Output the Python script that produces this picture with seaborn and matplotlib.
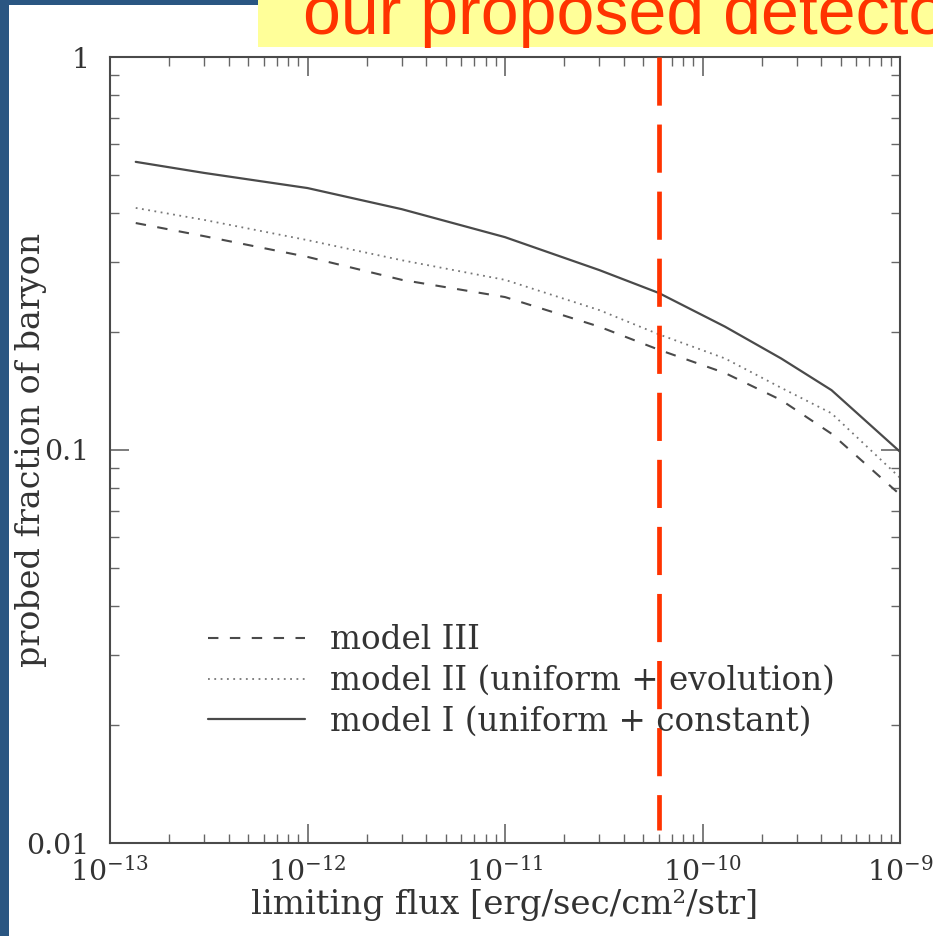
import matplotlib
matplotlib.use("Agg")
import matplotlib.pyplot as plt
from matplotlib.patches import Rectangle
from matplotlib.ticker import FixedLocator, FixedFormatter, LogLocator, NullFormatter
import numpy as np
import pandas as pd
import seaborn as sns

# ---------------- data ----------------
flux = [1.35e-13, 3e-13, 1e-12, 3e-12, 1e-11, 3e-11, 6e-11, 1.3e-10, 2.5e-10, 4.5e-10, 1e-9]
model_I = [0.541, 0.507, 0.464, 0.410, 0.348, 0.287, 0.251, 0.206, 0.171, 0.142, 0.099]
model_II = [0.413, 0.385, 0.342, 0.304, 0.271, 0.227, 0.197, 0.171, 0.144, 0.124, 0.085]
model_III = [0.378, 0.350, 0.310, 0.271, 0.245, 0.206, 0.180, 0.157, 0.134, 0.110, 0.077]
series_labels = ["model III", "model II (uniform + evolution)", "model I (uniform + constant)"]
detector_flux = 6e-11
x_ticks = [1e-13, 1e-12, 1e-11, 1e-10, 1e-9]
x_tick_labels = [r"$10^{-13}$", r"$10^{-12}$", r"$10^{-11}$", r"$10^{-10}$", r"$10^{-9}$"]
y_ticks = [0.01, 0.1, 1]
y_tick_labels = ["0.01", "0.1", "1"]
x_label = "limiting flux [erg/sec/cm²/str]"
y_label = "probed fraction of baryon"
banner_text = "our proposed detector"

# ---------------- style ----------------
sns.set_style("ticks")
plt.rcParams["font.family"] = ["DejaVu Serif"]
plt.rcParams["mathtext.fontset"] = "dejavuserif"

W, H = 933, 936
fig = plt.figure(figsize=(W / 100, H / 100), dpi=100)
fig.patch.set_facecolor("white")

# slide decorations
fig.patches.append(Rectangle((0, 0), 9 / W, 1, transform=fig.transFigure,
                             facecolor="#2A5682", edgecolor="none", zorder=0))
fig.patches.append(Rectangle((0, 1 - 5 / H), 258 / W, 5 / H, transform=fig.transFigure,
                             facecolor="#2A5682", edgecolor="none", zorder=0))
fig.patches.append(Rectangle((258 / W, 1 - 47 / H), 1 - 258 / W, 47 / H, transform=fig.transFigure,
                             facecolor="#FFFF99", edgecolor="none", zorder=0))
fig.text(303 / W, 1 - 34 / H, banner_text, color="#FF3300", fontsize=49,
         family=["Liberation Sans", "DejaVu Sans"], va="baseline", ha="left")

ax = fig.add_axes([110 / W, 1 - 843 / H, 790 / W, 786 / H])
ax.set_xscale("log")
ax.set_yscale("log")

df = pd.DataFrame({"flux": flux, "III": model_III, "II": model_II, "I": model_I})
line_color = "#4a4a4a"
sns.lineplot(data=df, x="flux", y="III", ax=ax, color=line_color, lw=1.5,
             label=series_labels[0], linestyle=(0, (5, 5.5)))
sns.lineplot(data=df, x="flux", y="II", ax=ax, color="#777777", lw=1.3,
             label=series_labels[1], linestyle=(0, (1, 2.5)))
sns.lineplot(data=df, x="flux", y="I", ax=ax, color=line_color, lw=1.6,
             label=series_labels[2], linestyle="-")

# detector line (top to bottom so the dash pattern starts at the top)
ax.plot([detector_flux, detector_flux], [1.0, 0.0165], transform=ax.get_xaxis_transform(),
        color="#FF3300", lw=3.4, linestyle=(0, (10.2, 4.0)), solid_capstyle="butt",
        dash_capstyle="butt", zorder=5)

ax.set_xlim(1e-13, 1e-9)
ax.set_ylim(0.01, 1)

ax.xaxis.set_major_locator(FixedLocator(x_ticks))
ax.xaxis.set_major_formatter(FixedFormatter(x_tick_labels))
ax.yaxis.set_major_locator(FixedLocator(y_ticks))
ax.yaxis.set_major_formatter(FixedFormatter(y_tick_labels))
ax.xaxis.set_minor_locator(LogLocator(base=10, subs=np.arange(2, 10), numticks=20))
ax.yaxis.set_minor_locator(LogLocator(base=10, subs=np.arange(2, 10), numticks=20))
ax.xaxis.set_minor_formatter(NullFormatter())
ax.yaxis.set_minor_formatter(NullFormatter())

spine_col = "#4a4a4a"
for s in ax.spines.values():
    s.set_visible(True)
    s.set_color(spine_col)
    s.set_linewidth(1.5)
ax.tick_params(which="both", direction="in", top=True, right=True, color="#666666",
               labelcolor="#333333")
ax.tick_params(which="major", length=14, width=1.2, labelsize=20.5)
ax.tick_params(which="minor", length=6.5, width=1.0)
ax.tick_params(axis="x", which="major", pad=10)
ax.tick_params(axis="y", which="major", pad=15)

ax.set_xlabel(x_label, fontsize=24.5, color="#333333")
ax.set_ylabel(y_label, fontsize=24, color="#333333")
ax.xaxis.set_label_coords(0.5, -0.058)
ax.yaxis.set_label_coords(-0.08, 0.5)

leg = ax.legend(loc="upper left", bbox_to_anchor=(0.124, 0.278), frameon=False,
                fontsize=23.5, handlelength=2.98, handletextpad=0.77, labelspacing=0.26,
                borderpad=0, borderaxespad=0)
for t in leg.get_texts():
    t.set_color("#333333")

fig.savefig("out.png", dpi=100)
